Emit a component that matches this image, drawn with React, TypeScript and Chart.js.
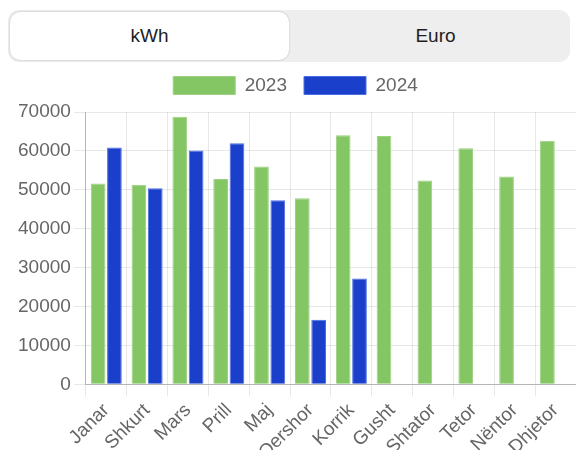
import React, { useEffect, useRef } from "react";
import { Chart, registerables } from "chart.js";

Chart.register(...registerables);

const months = [
  "Janar", "Shkurt", "Mars", "Prill", "Maj", "Qershor",
  "Korrik", "Gusht", "Shtator", "Tetor", "Nëntor", "Dhjetor",
];

const usage2023 = [51600, 51300, 68800, 52800, 56000, 47800, 64000, 63800, 52400, 60700, 53400, 62600];
const usage2024 = [60900, 50400, 60100, 62000, 47300, 16600, 27200];

const tabs = ["kWh", "Euro"];

const FONT = "'Liberation Sans', Arial, Helvetica, sans-serif";

// adds a little breathing room between the legend and the plot area
const legendGap = {
  id: "legendGap",
  beforeInit(chart: any) {
    const fit = chart.legend.fit;
    chart.legend.fit = function () {
      fit.call(this);
      this.height += 7;
    };
  },
};

export default function App() {
  const canvasRef = useRef<HTMLCanvasElement | null>(null);

  useEffect(() => {
    if (!canvasRef.current) return;
    const chart = new Chart(canvasRef.current, {
      type: "bar",
      data: {
        labels: months,
        datasets: [
          {
            label: "2023",
            data: usage2023,
            backgroundColor: "#84c564",
            borderColor: "#9bd180",
            borderWidth: 1,
          },
          {
            label: "2024",
            data: usage2024,
            backgroundColor: "#1a3fcb",
            borderColor: "#4d6ee0",
            borderWidth: 1,
          },
        ],
      },
      plugins: [legendGap],
      options: {
        animation: false,
        responsive: false,
        layout: { padding: { left: 15, right: 0, top: 0, bottom: 0 } },
        plugins: {
          tooltip: { enabled: false },
          legend: {
            labels: {
              boxWidth: 62,
              boxHeight: 18,
              padding: 17,
              color: "#666",
              font: { family: FONT, size: 19 },
            },
          },
        },
        scales: {
          x: {
            grid: { color: "rgba(0,0,0,0.09)", tickLength: 12 },
            border: { color: "#b5b5b5" },
            ticks: {
              color: "#666",
              font: { family: FONT, size: 19 },
              minRotation: 45,
              maxRotation: 45,
              autoSkip: false,
            },
          },
          y: {
            beginAtZero: true,
            max: 70000,
            grid: { color: "rgba(0,0,0,0.09)", tickLength: 12 },
            border: { color: "#b5b5b5" },
            ticks: {
              stepSize: 10000,
              color: "#666",
              font: { family: FONT, size: 19 },
              callback: (v: any) => String(v),
            },
          },
        },
      },
    });
    return () => chart.destroy();
  }, []);

  return (
    <div
      style={{
        position: "fixed",
        left: 0,
        top: 0,
        width: 576,
        height: 450,
        overflow: "hidden",
        background: "#fff",
        fontFamily: FONT,
      }}
    >
      <div
        style={{
          position: "absolute",
          left: 8,
          top: 10,
          width: 562,
          height: 52,
          borderRadius: 11,
          background: "#eeeeee",
          display: "flex",
          boxSizing: "border-box",
          padding: 2,
        }}
      >
        {tabs.map((t, i) => (
          <div
            key={t}
            style={{
              flex: "1 1 0",
              display: "flex",
              alignItems: "center",
              justifyContent: "center",
              fontSize: 19,
              color: "#1e1e1e",
              borderRadius: 10,
              background: i === 0 ? "#ffffff" : "transparent",
              boxShadow: i === 0 ? "0 0 2px rgba(0,0,0,0.25)" : "none",
            }}
          >
            <span style={{ marginLeft: i === 1 ? 14 : 0 }}>{t}</span>
          </div>
        ))}
      </div>
      <canvas
        ref={canvasRef}
        width={576}
        height={408}
        style={{ position: "absolute", left: 0, top: 59, width: 576, height: 408 }}
      />
    </div>
  );
}
